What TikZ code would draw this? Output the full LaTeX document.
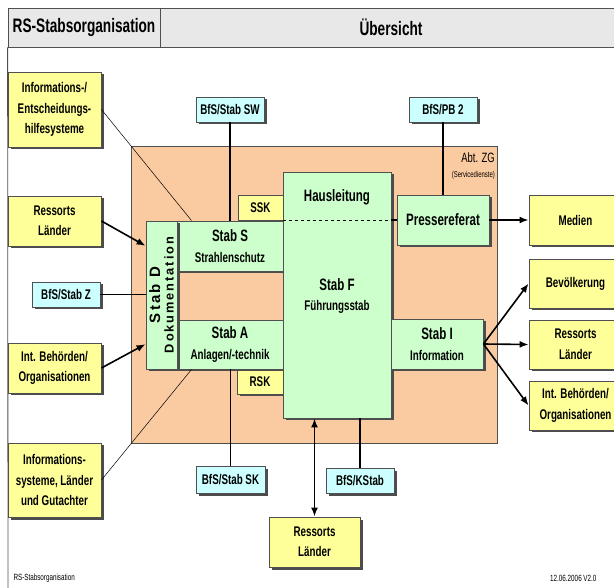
\documentclass[tikz,border=0pt]{standalone}
\usepackage{fontspec}
\setmainfont[FakeStretch=0.7]{Liberation Sans}
\newfontfamily\widefont[LetterSpace=15]{Liberation Sans}
\usetikzlibrary{arrows.meta,shadows,calc}

\definecolor{cYel}{RGB}{255,255,153}
\definecolor{cCyan}{RGB}{204,255,255}
\definecolor{cGreen}{RGB}{204,255,204}
\definecolor{cOrange}{RGB}{250,202,160}
\definecolor{cHead}{RGB}{232,232,232}
\definecolor{cLine}{RGB}{80,80,80}

\newcommand\lbl[1]{{\fontsize{16.5}{21}\selectfont #1}}

\begin{document}
\begin{tikzpicture}[x=1pt, y=-1pt,
    box/.style={draw=cLine, line width=0.9pt, inner sep=0pt, align=center,
        font=\bfseries\fontsize{14}{20.5}\selectfont,
        drop shadow={shadow xshift=2.5pt, shadow yshift=-2.5pt, fill=black!70, opacity=1}},
    ybox/.style={box, fill=cYel},
    cbox/.style={box, fill=cCyan},
    gbox/.style={box, fill=cGreen},
    head/.style={draw=cLine, fill=cHead, line width=0.8pt, inner sep=0pt,
        font=\bfseries\fontsize{19.5}{22}\selectfont},
    con/.style={line width=1.6pt, -{Latex[length=9pt,width=7pt]}},
    stem/.style={line width=1.3pt},
    thin/.style={line width=0.5pt}]
    \useasboundingbox (0,0) rectangle (614,588);
    \clip (0,0) rectangle (614,588);

    \node[head, minimum width=152pt, minimum height=39pt] (hdL) at (84,27.5) {RS-Stabsorganisation};
    \node[head, minimum width=462pt, minimum height=39pt] (hdR) at (391,27.5) {Übersicht};
    \draw[cLine, line width=0.8pt] (hdL.south west) -- (8,600);

    \node[draw=cLine, fill=cOrange, line width=0.6pt, minimum width=366pt, minimum height=297pt] (zg) at (314,294.5) {};
    \node[anchor=east, inner sep=0pt, font=\fontsize{13.5}{15}\selectfont] (zgName) at (495,158) {Abt. ZG};
    \node[anchor=east, inner sep=0pt, font=\fontsize{8.5}{10}\selectfont] (zgSub) at (495,175) {(Servicedienste)};

    \node[ybox, minimum width=45pt, minimum height=25pt] (ssk) at (260.5,207.5) {SSK};
    \node[ybox, minimum width=46pt, minimum height=25pt] (rsk) at (260,381.5) {RSK};
    \node[gbox, minimum width=106pt, minimum height=50pt] (stabS) at (230,246) {\lbl{Stab S}\\Strahlenschutz};
    \node[gbox, minimum width=106pt, minimum height=49pt] (stabA) at (230,344.5) {\lbl{Stab A}\\Anlagen/-technik};
    \node[gbox, minimum width=31pt, minimum height=148pt] (stabD) at (161.5,295) {};
    \node[rotate=90, align=center, inner sep=0pt, font=\widefont\bfseries\fontsize{12.8}{13.5}\selectfont]
        (stabDtxt) at (stabD) {{\fontsize{15}{13.5}\selectfont Stab D}\\Dokumentation};
    \node[gbox, minimum width=108pt, minimum height=246pt] (stabF) at (337,295) {};
    \node[font=\bfseries\fontsize{16.5}{21}\selectfont] (hausl) at (337,197) {Hausleitung};
    \node[align=center, font=\bfseries\fontsize{14}{20.5}\selectfont] (stabFtxt) at (337,296) {\lbl{Stab F}\\Führungsstab};
    \node[gbox, minimum width=92pt, minimum height=50pt] (presse) at (443,220) {\lbl{Pressereferat}};
    \node[gbox, minimum width=92pt, minimum height=50pt] (stabI) at (437,344) {\lbl{Stab I}\\Information};

    \node[ybox, minimum width=93pt, minimum height=75pt] (infoES) at (54.5,109.5) {Informations-/\\Entscheidungs-\\hilfesysteme};
    \node[ybox, minimum width=93pt, minimum height=50pt] (ressL) at (54.5,221) {Ressorts\\Länder};
    \node[cbox, minimum width=68pt, minimum height=25pt] (stabZ) at (66,294.5) {BfS/Stab Z};
    \node[ybox, minimum width=93pt, minimum height=50pt] (behL) at (54.5,368) {Int. Behörden/\\Organisationen};
    \node[ybox, minimum width=93pt, minimum height=74pt] (infoSys) at (54.5,480) {Informations-\\systeme, Länder\\und Gutachter};

    \node[cbox, minimum width=68pt, minimum height=25pt] (stabSW) at (230,109.5) {BfS/Stab SW};
    \node[cbox, minimum width=68pt, minimum height=25pt] (pb2) at (443,109.5) {BfS/PB 2};
    \node[cbox, minimum width=69pt, minimum height=27pt] (stabSK) at (230.5,479.5) {BfS/Stab SK};
    \node[cbox, minimum width=68pt, minimum height=25pt] (kstab) at (360,480.5) {BfS/KStab};
    \node[ybox, minimum width=91pt, minimum height=50pt] (ressB) at (314.5,542) {Ressorts\\Länder};

    \node[ybox, minimum width=93pt, minimum height=50pt] (medien) at (575.5,220) {Medien};
    \node[ybox, minimum width=93pt, minimum height=49pt] (bev) at (575.5,283.5) {Bevölkerung};
    \node[ybox, minimum width=93pt, minimum height=49pt] (ressR) at (575.5,344.5) {Ressorts\\Länder};
    \node[ybox, minimum width=93pt, minimum height=49pt] (behR) at (575.5,405.5) {Int. Behörden/\\Organisationen};

    \node[anchor=west, font=\fontsize{9}{10}\selectfont] (footL) at (10,578) {RS-Stabsorganisation};
    \node[anchor=east, font=\fontsize{9}{10}\selectfont] (footR) at (600,578) {12.06.2006 V2.0};

    \draw[stem] (stabSW) -- (stabS);
    \draw[stem] (pb2) -- (presse);
    \draw[stem] (stabSK.north) -- (stabSK.north |- stabA.south);
    \draw[stem] (kstab.north) -- (kstab.north |- stabF.south);
    \draw[con, {Latex[length=9pt,width=7pt]}-{Latex[length=9pt,width=7pt]}] (ressB.north) -- (ressB.north |- stabF.south);
    \draw[con] (ressL.east) -- ($(stabD.north west)!0.17!(stabD.south west)$);
    \draw[line width=1.6pt] (stabZ.east) -- (stabZ.east -| stabD.west);
    \draw[con] (behL.east) -- ($(stabD.north west)!0.83!(stabD.south west)$);
    \draw[con] (presse.east) -- (medien.west);
    \draw[con] (stabI.east) -- (bev.west);
    \draw[con] (stabI.east) -- (ressR.west);
    \draw[con] (stabI.east) -- (behR.west);
    \draw[thin] (infoES.east) -- ($(stabS.north west)!0.14!(stabS.north east)$);
    \draw[thin] (infoSys.east) -- ($(stabA.south west)!0.14!(stabA.south east)$);
    \draw[dashed, line width=0.8pt] (stabF.west |- presse.west) -- (stabF.east |- presse.west);
    \draw[stem] (stabF.east |- presse.west) -- (presse.west);
\end{tikzpicture}
\end{document}
